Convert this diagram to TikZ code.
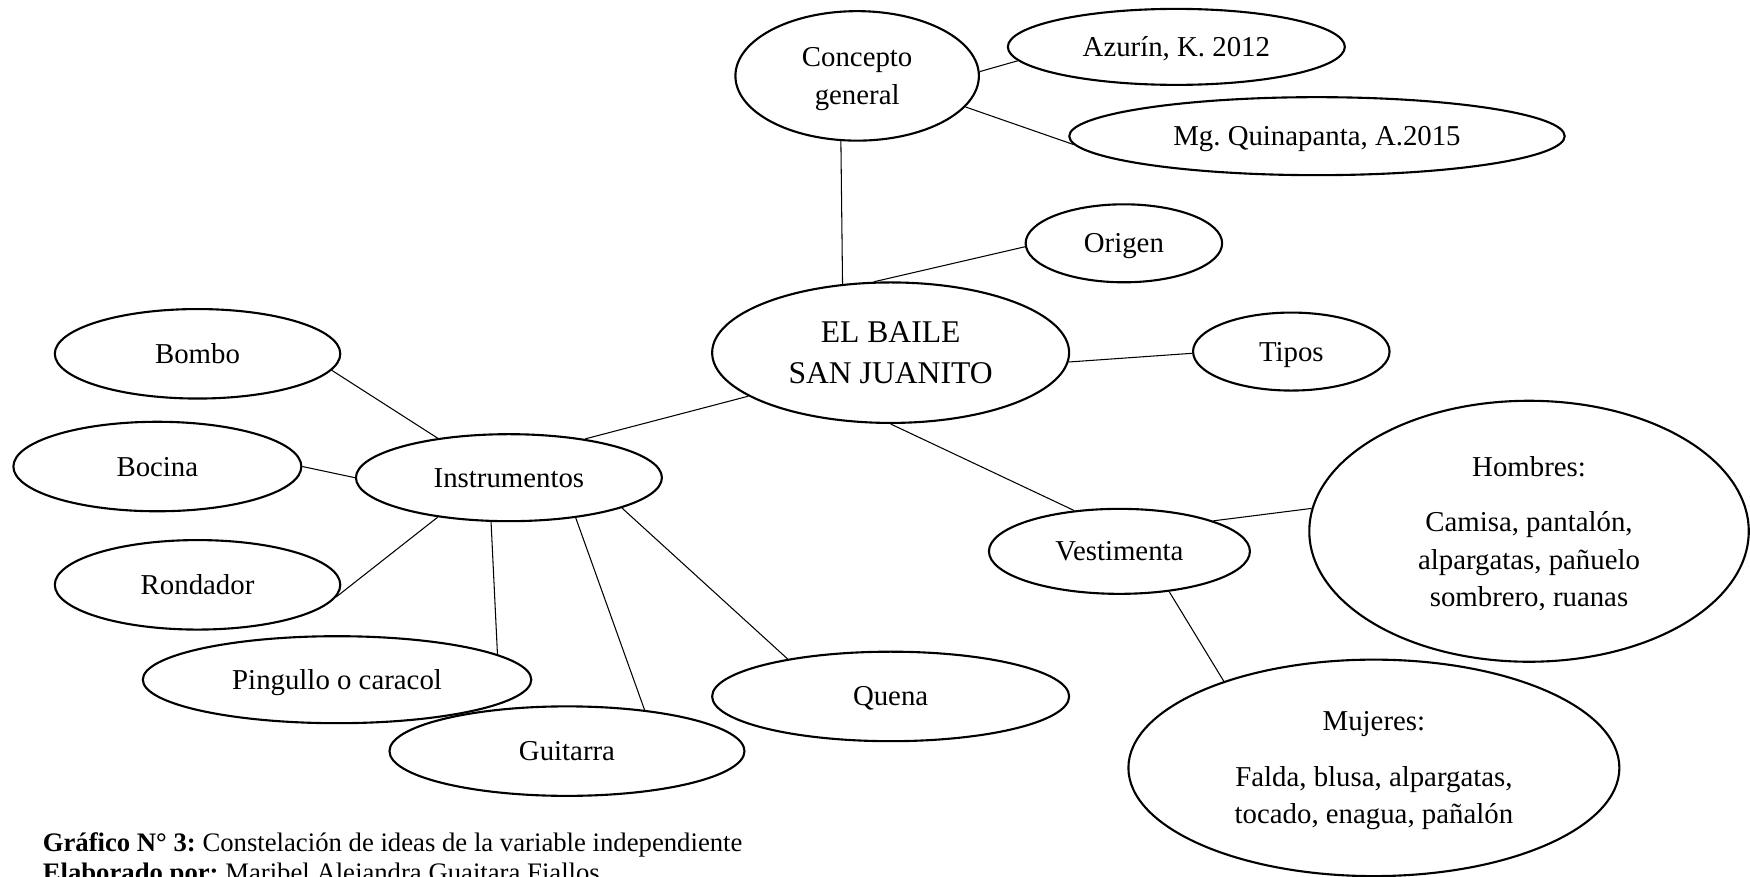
\documentclass[tikz,border=0pt]{standalone}
\usepackage{fontspec}
\setmainfont{Liberation Serif}
\usepackage{tikz}
\usetikzlibrary{shapes.geometric,positioning}
\frenchspacing
\tikzstyle{oval} = [ellipse, draw=black, line width=1.2pt, inner sep=0pt, align=center, text depth=0pt, font=\fontsize{16.4}{21.2}\selectfont]
\tikzstyle{link} = [line width=0.6pt, draw=black]
\tikzstyle{caption} = [anchor=base west, inner sep=0pt, font=\fontsize{15.2}{17}\selectfont]

\begin{document}
\begin{tikzpicture}[x=0.02232cm, y=-0.02232cm]
\useasboundingbox (0,0) rectangle (1568,785);

% Central concept
\node (baile) [oval, minimum width=7.14cm, minimum height=2.81cm, font=\fontsize{18}{23}\selectfont] at (798,316) {EL BAILE\\SAN JUANITO};

% Upper branch
\node (concepto) [oval, minimum width=4.87cm, minimum height=2.59cm] at (768,68) {Concepto\\general};
\node (azurin) [oval, minimum width=6.74cm, minimum height=1.52cm] at (1054,42) {Azurín, K. 2012};
\node (quinapanta) [oval, minimum width=9.91cm, minimum height=1.56cm] at (1180,122) {Mg. Quinapanta, A.2015};
\node (origen) [oval, minimum width=3.93cm, minimum height=1.56cm] at (1007,218) {Origen};
\node (tipos) [oval, minimum width=3.93cm, minimum height=1.56cm] at (1157,315) {Tipos};

% Instruments
\node (instrumentos) [oval, minimum width=6.12cm, minimum height=1.74cm] at (456,428) {Instrumentos};
\node (bombo) [oval, minimum width=5.71cm, minimum height=1.79cm] at (177,317) {Bombo};
\node (bocina) [oval, minimum width=5.76cm, minimum height=1.79cm] at (141,418) {Bocina};
\node (rondador) [oval, minimum width=5.71cm, minimum height=1.79cm] at (177,524) {Rondador};
\node (pingullo) [oval, minimum width=7.77cm, minimum height=1.74cm] at (302,609) {Pingullo o caracol};
\node (guitarra) [oval, minimum width=7.10cm, minimum height=1.79cm] at (508,673) {Guitarra};
\node (quena) [oval, minimum width=7.14cm, minimum height=1.79cm] at (798,624) {Quena};

% Clothing
\node (vestimenta) [oval, minimum width=5.22cm, minimum height=1.70cm] at (1003,494) {Vestimenta};
\node (hombres) [oval, minimum width=8.79cm, minimum height=5.22cm] at (1370,476) {Hombres:\\[10.6pt]Camisa, pantalón,\\alpargatas, pañuelo\\sombrero, ruanas};
\node (mujeres) [oval, minimum width=9.82cm, minimum height=4.33cm] at (1231,688) {Mujeres:\\[10.6pt]Falda, blusa, alpargatas,\\tocado, enagua, pañalón};

% Caption
\node (cap1) [caption] at (38,763) {\textbf{Gráfico N° 3:} Constelación de ideas de la variable independiente};
\node (cap2) [caption] at (38,790) {\textbf{Elaborado por:} Maribel Alejandra Guaitara Fiallos};

% Connections
\draw[link] (concepto.-104) -- (baile.125);
\draw[link] (concepto.2) -- (azurin.185);
\draw[link] (concepto.-16.5) -- (quinapanta.182);
\draw[link] (baile.103.4) -- (origen.182.6);
\draw[link] (baile.-3.9) -- (tipos.181);
\draw[link] (baile.197) -- (instrumentos.27.6);
\draw[link] (baile.-90) -- (vestimenta.138.5);

\draw[link] (vestimenta.18.2) -- (hombres.174.5);
\draw[link] (vestimenta.-39) -- (mujeres.150);

\draw[link] (instrumentos.151) -- (bombo.-7.2);
\draw[link] (instrumentos.180) -- (bocina.0);
\draw[link] (instrumentos.-151) -- (rondador.-5.4);
\draw[link] (instrumentos.-112.3) -- (pingullo.9.8);
\draw[link] (instrumentos.-31.4) -- (guitarra.28.8);
\draw[link] (instrumentos.-15.3) -- (quena.160.8);
\end{tikzpicture}
\end{document}
